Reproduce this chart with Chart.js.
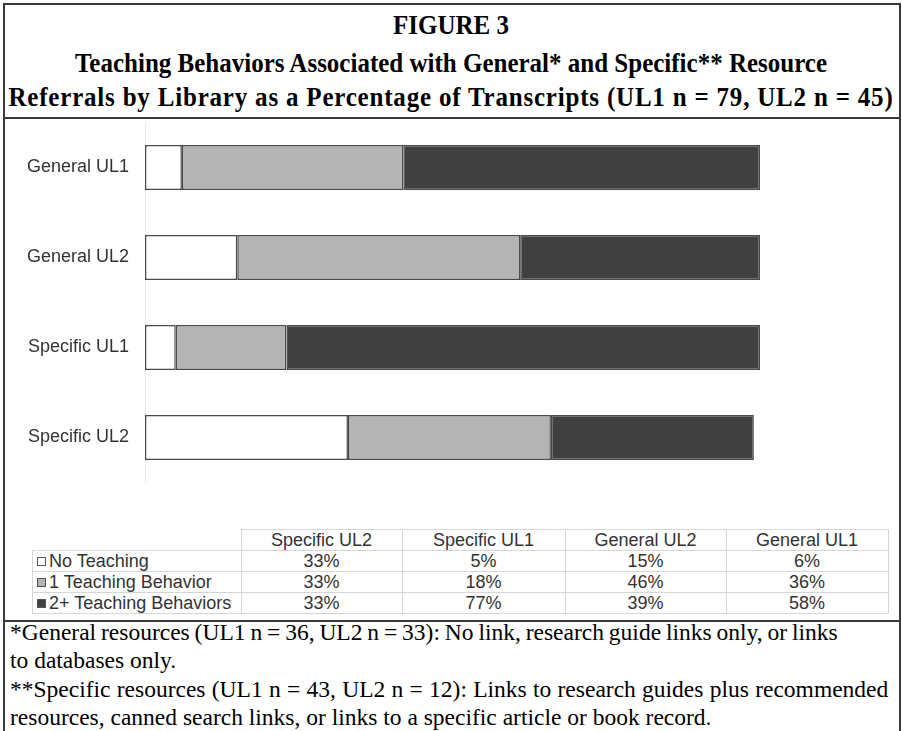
<!DOCTYPE html>
<html>
<head>
<meta charset="utf-8">
<script src="https://cdn.jsdelivr.net/npm/chart.js@4.4.0/dist/chart.umd.min.js"></script>
<style>
  html, body { margin: 0; padding: 0; background: #fff; }
  body { width: 902px; height: 731px; position: relative; overflow: hidden; }
  #frame { position: absolute; left: 3px; top: 3px; width: 894px; height: 740px;
           border: 2px solid #3a3a3a; border-bottom: none; }
  .hline { position: absolute; left: 3px; width: 898px; height: 2px; background: #3a3a3a; }
  .tl { position: absolute; left: 0; width: 902px; text-align: center;
        font-family: "Liberation Serif", "Times New Roman", serif; font-weight: bold;
        font-size: 25px; line-height: 28px; height: 28px; color: #000; white-space: nowrap;
        transform: scaleY(1.1); transform-origin: 50% 22px; }
  #chartBox { position: absolute; left: 0; top: 111px; width: 902px; height: 383px; }
  #tbl { position: absolute; left: 32px; top: 529px; border-collapse: collapse;
         font-family: "Liberation Sans", Arial, sans-serif; font-size: 18px; color: #333; }
  #tbl td { border: 1.5px solid #d6d6d6; padding: 0; text-align: center; white-space: nowrap;
            height: 20px; line-height: 20px; }
  #tbl td.lab { text-align: left; padding-left: 4px; }
  #tbl td.blank { border-top: none; border-left: none; }
  .sw { display: inline-block; width: 9px; height: 9px; margin-right: 3px; vertical-align: 1px;
        box-sizing: border-box; border: 1.5px solid #555; }
  .fn { position: absolute; left: 10px; font-family: "Liberation Serif", "Times New Roman", serif;
        font-size: 23.5px; line-height: 28px; height: 28px; color: #000; white-space: nowrap; }
</style>
</head>
<body>
<div id="frame"></div>
<div class="tl" style="top:12px">FIGURE 3</div>
<div class="tl" style="top:50px">Teaching Behaviors Associated with General* and Specific** Resource</div>
<div class="tl" style="top:84px; letter-spacing:0.8px">Referrals by Library as a Percentage of Transcripts (UL1 n = 79, UL2 n = 45)</div>
<div class="hline" style="top:117px"></div>
<div id="chartBox"><canvas id="c"></canvas></div>
<table id="tbl"></table>
<div class="hline" style="top:620px"></div>
<div class="fn" style="top:618px; word-spacing:-1px">*General resources (UL1 n = 36, UL2 n = 33): No link, research guide links only, or links</div>
<div class="fn" style="top:646px">to databases only.</div>
<div class="fn" style="top:675px; word-spacing:0.4px">**Specific resources (UL1 n = 43, UL2 n = 12): Links to research guides plus recommended</div>
<div class="fn" style="top:703px">resources, canned search links, or links to a specific article or book record.</div>
<script>
const categories = ['General UL1', 'General UL2', 'Specific UL1', 'Specific UL2'];
const seriesNames = ['No Teaching', '1 Teaching Behavior', '2+ Teaching Behaviors'];
const noTeaching = [6, 15, 5, 33];
const oneBehavior = [36, 46, 18, 33];
const twoPlus = [58, 39, 77, 33];
const seriesColors = ['#ffffff', '#b4b4b4', '#404040'];
const tableColumns = ['Specific UL2', 'Specific UL1', 'General UL2', 'General UL1'];

const seriesValues = [noTeaching, oneBehavior, twoPlus];

new Chart(document.getElementById('c'), {
  type: 'bar',
  data: {
    labels: categories,
    datasets: seriesNames.map((n, i) => ({
      label: n,
      data: seriesValues[i],
      backgroundColor: seriesColors[i],
      borderColor: '#4a4a4a',
      borderWidth: 1.5,
      borderSkipped: false,
      categoryPercentage: 1,
      barPercentage: 0.5
    }))
  },
  options: {
    indexAxis: 'y',
    responsive: true,
    maintainAspectRatio: false,
    animation: false,
    layout: { padding: { left: 0, right: 142, top: 11.5, bottom: 11.5 } },
    plugins: { legend: { display: false }, tooltip: { enabled: false }, title: { display: false } },
    scales: {
      x: { stacked: true, display: false, min: 0, max: 100 },
      y: {
        stacked: true,
        grid: { display: false, drawTicks: true, tickLength: 16 },
        border: { display: true, color: '#ececec', width: 1 },
        ticks: { color: '#333', padding: 0, font: { family: 'Liberation Sans, Arial, sans-serif', size: 18 } },
        afterFit: (s) => { s.width = 145; }
      }
    }
  }
});

// data table built from the same arrays (columns in reverse category order)
const tbl = document.getElementById('tbl');
const widths = [208, 160, 162, 160, 161];
let html = '<tr><td class="blank" style="width:' + widths[0] + 'px"></td>';
tableColumns.forEach((c, j) => { html += '<td style="width:' + widths[j + 1] + 'px">' + c + '</td>'; });
html += '</tr>';
seriesNames.forEach((n, i) => {
  html += '<tr><td class="lab"><span class="sw" style="background:' + seriesColors[i] + '"></span>' + n + '</td>';
  tableColumns.forEach(c => {
    const idx = categories.indexOf(c);
    html += '<td>' + seriesValues[i][idx] + '%</td>';
  });
  html += '</tr>';
});
tbl.innerHTML = html;
</script>
</body>
</html>
